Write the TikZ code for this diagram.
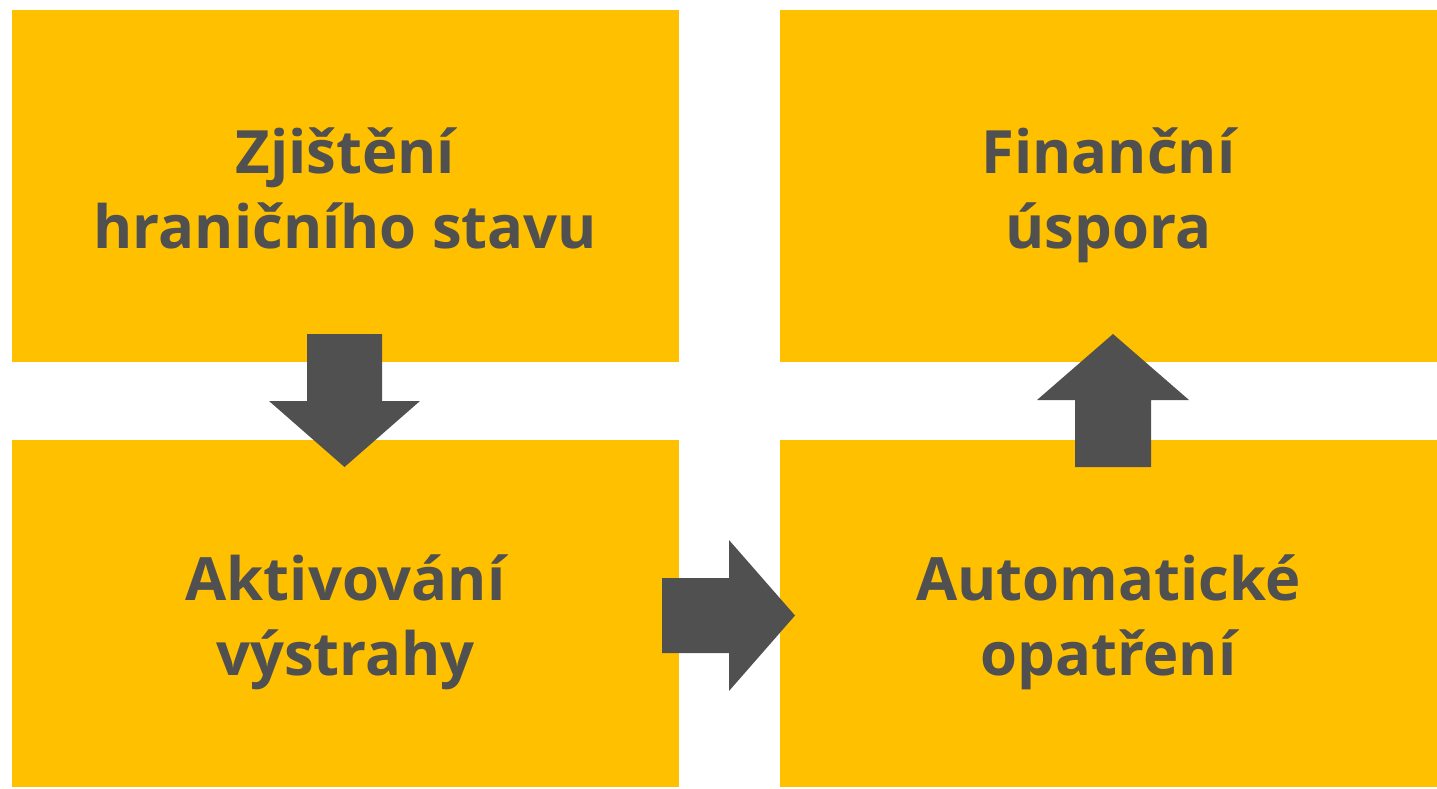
\documentclass[tikz,border=0pt]{standalone}
\usepackage{fontspec}
\setmainfont{Open Sans}
\definecolor{boxyellow}{HTML}{FFC000}
\definecolor{darkgray}{HTML}{505050}
\begin{document}
\begin{tikzpicture}[x=0.02cm,y=-0.02cm,
  box/.style={fill=none,draw=none,inner sep=0pt,text=darkgray,align=center,
    font=\fontsize{34pt}{42.5pt}\selectfont\bfseries},
  blockarrow/.style={fill=darkgray,draw=none}]
\useasboundingbox (0,0) rectangle (1437,788);
\fill[boxyellow] (12,10) rectangle (679,362);
\fill[boxyellow] (780,10) rectangle (1437,362);
\fill[boxyellow] (12,440) rectangle (679,787);
\fill[boxyellow] (780,440) rectangle (1437,787);
\node[box] (tl) at (345.5,196) {Zjištění\strut\\hraničního stavu\strut};
\node[box] (tr) at (1108.5,196) {Finanční\strut\\úspora\strut};
\node[box] (bl) at (345.5,623) {Aktivování\strut\\výstrahy\strut};
\node[box] (br) at (1108.5,623) {Automatické\strut\\opatření\strut};
% down arrow
\fill[blockarrow] (307,334) -- (382,334) -- (382,401) -- (420,401) -- (344.5,467) -- (269,401) -- (307,401) -- cycle;
% right arrow
\fill[blockarrow] (662,578) -- (729,578) -- (729,540) -- (795,615.5) -- (729,691) -- (729,653) -- (662,653) -- cycle;
% up arrow
\fill[blockarrow] (1075,467) -- (1151,467) -- (1151,400) -- (1189,400) -- (1113,334) -- (1037,400) -- (1075,400) -- cycle;
\end{tikzpicture}
\end{document}
